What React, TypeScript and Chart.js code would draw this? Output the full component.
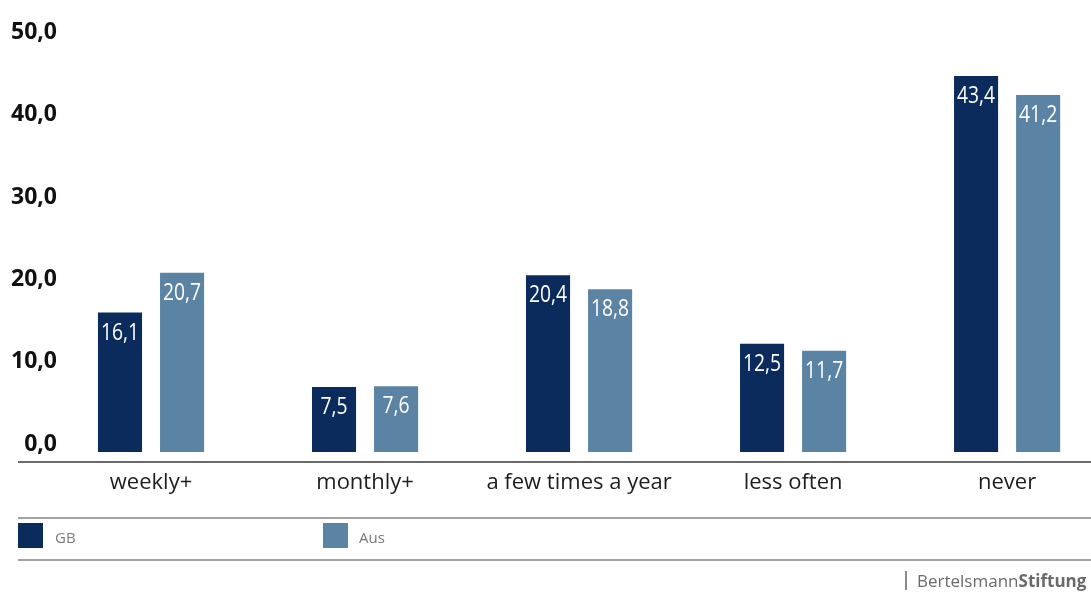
import React, { useEffect, useRef } from "react";
import { Chart, registerables } from "chart.js";

Chart.register(...registerables);

const CATEGORIES = ["weekly+", "monthly+", "a few times a year", "less often", "never"];
const GB_VALUES = [16.1, 7.5, 20.4, 12.5, 43.4];
const AUS_VALUES = [20.7, 7.6, 18.8, 11.7, 41.2];
const SERIES_NAMES = ["GB", "Aus"];
const Y_TICKS = [0, 10, 20, 30, 40, 50];

const COLORS = ["#0b2b5c", "#5a83a4"];
const fmt = (v: number) => v.toFixed(1).replace(".", ",");

const valueLabels = {
  id: "valueLabels",
  afterDatasetsDraw(chart: any) {
    const ctx = chart.ctx;
    ctx.save();
    ctx.font = "23px 'Open Sans', sans-serif";
    ctx.fillStyle = "#ffffff";
    ctx.textAlign = "center";
    ctx.textBaseline = "top";
    chart.data.datasets.forEach((ds: any, di: number) => {
      chart.getDatasetMeta(di).data.forEach((el: any, i: number) => {
        const t = fmt(ds.data[i].y);
        const w = ctx.measureText(t).width * 0.84;
        ctx.fillText(t, el.x, el.y + 9, w);
      });
    });
    ctx.restore();
  },
};

const axisLine = {
  id: "axisLine",
  afterDraw(chart: any) {
    const ctx = chart.ctx;
    const y = chart.chartArea.bottom;
    ctx.save();
    ctx.strokeStyle = "#6b6b6b";
    ctx.lineWidth = 2;
    ctx.beginPath();
    ctx.moveTo(18, y);
    ctx.lineTo(chart.width, y);
    ctx.stroke();
    ctx.restore();
  },
};

export default function App() {
  const ref = useRef<HTMLCanvasElement>(null);

  useEffect(() => {
    if (!ref.current) return;
    const chart = new Chart(ref.current, {
      type: "bar",
      data: {
        datasets: [
          {
            label: SERIES_NAMES[0],
            data: GB_VALUES.map((v, i) => ({ x: i, y: v })),
            backgroundColor: COLORS[0],
            yAxisID: "y",
          },
          {
            label: SERIES_NAMES[1],
            data: AUS_VALUES.map((v, i) => ({ x: i, y: v })),
            backgroundColor: COLORS[1],
            yAxisID: "y",
          },
        ],
      },
      options: {
        animation: false,
        responsive: false,
        categoryPercentage: 0.58,
        barPercentage: 0.71,
        layout: { padding: { top: 13, left: 0, right: 0, bottom: 0 } },
        plugins: { legend: { display: false }, tooltip: { enabled: false } },
        scales: {
          x: {
            type: "linear",
            position: "bottom",
            offset: false,
            min: -0.416,
            max: 4.392,
            grid: { display: false, drawTicks: false, offset: false },
            border: { display: false },
            afterBuildTicks: (s: any) => {
              s.ticks = CATEGORIES.map((_, i) => ({ value: i }));
            },
            afterFit: (s: any) => {
              s.height = 132;
            },
            ticks: {
              padding: 8,
              color: "#1e1e1e",
              font: { family: "'Open Sans', sans-serif", size: 22 },
              maxRotation: 0,
              autoSkip: false,
              callback: (v: any) => CATEGORIES[v as number] ?? "",
            },
          },
          y: {
            type: "linear",
            display: false,
            min: -1.14,
            max: 50,
          },
          yTicks: {
            type: "linear",
            position: "left",
            min: -2.158,
            max: 51.68,
            grid: { display: false, drawTicks: false },
            border: { display: false },
            afterBuildTicks: (s: any) => {
              s.ticks = Y_TICKS.map((v) => ({ value: v }));
            },
            afterFit: (s: any) => {
              s.width = 62;
            },
            ticks: {
              padding: 5,
              color: "#111111",
              font: { family: "'Open Sans', sans-serif", size: 23, weight: "bold" },
              callback: (v: any) => fmt(v as number),
            },
          },
        },
      },
      plugins: [valueLabels, axisLine],
    } as any);
    return () => chart.destroy();
  }, []);

  const legendText: React.CSSProperties = {
    position: "absolute",
    top: 526,
    fontFamily: "'Open Sans', sans-serif",
    fontSize: 15,
    lineHeight: "22px",
    color: "#7a7a7a",
  };

  return (
    <div style={{ position: "absolute", left: 0, top: 0, width: 1091, height: 594, background: "#fff", overflow: "hidden" }}>
      <canvas ref={ref} width={1091} height={594} style={{ position: "absolute", left: 0, top: 0 }} />
      <div style={{ position: "absolute", left: 18, top: 517, width: 1073, height: 0, borderTop: "2px solid #a3a3a3" }} />
      <div style={{ position: "absolute", left: 18, top: 523, width: 25, height: 25, background: COLORS[0] }} />
      <div style={{ ...legendText, left: 55 }}>{SERIES_NAMES[0]}</div>
      <div style={{ position: "absolute", left: 323, top: 523, width: 25, height: 25, background: COLORS[1] }} />
      <div style={{ ...legendText, left: 359 }}>{SERIES_NAMES[1]}</div>
      <div style={{ position: "absolute", left: 18, top: 559, width: 1073, height: 0, borderTop: "2px solid #a3a3a3" }} />
      <div style={{ position: "absolute", left: 905, top: 571, width: 2, height: 19, background: "#8a8a8a" }} />
      <div
        style={{
          position: "absolute",
          left: 917,
          top: 569,
          fontFamily: "'Open Sans', sans-serif",
          fontSize: 17,
          lineHeight: "24px",
          color: "#6a6a6a",
          whiteSpace: "nowrap",
        }}
      >
        <span>Bertelsmann</span>
        <span style={{ fontWeight: 700 }}>Stiftung</span>
      </div>
    </div>
  );
}
